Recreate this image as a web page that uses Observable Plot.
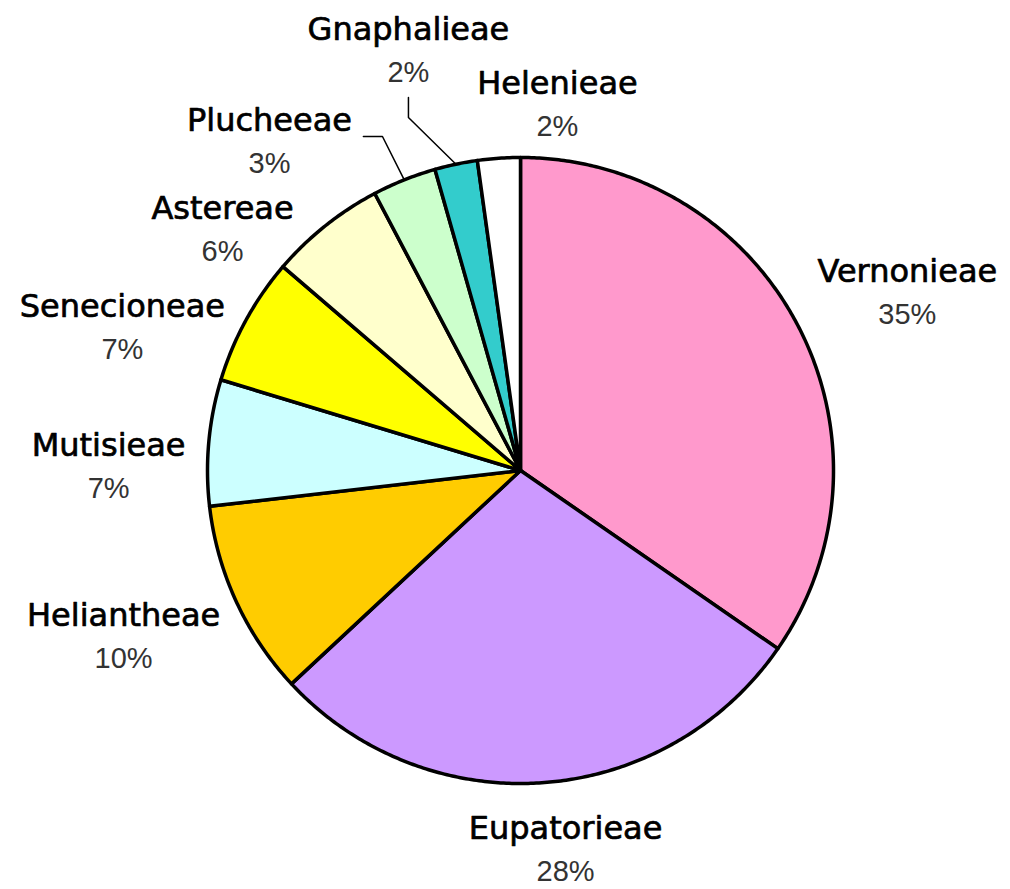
<!DOCTYPE html>
<html>
<head>
<meta charset="utf-8">
<script src="https://cdn.jsdelivr.net/npm/d3@7"></script>
<script src="https://cdn.jsdelivr.net/npm/@observablehq/plot@0.6"></script>
<style>
  html, body { margin: 0; padding: 0; background: #fff; }
  #chart svg { display: block; }
</style>
</head>
<body>
<div id="chart"></div>
<script>
// ---- data ----
const tribes = ["Vernonieae", "Eupatorieae", "Heliantheae", "Mutisieae", "Senecioneae",
                "Astereae", "Plucheeae", "Gnaphalieae", "Helenieae"];
const shares = [34.6, 28.4, 10.1, 6.5, 6.6, 6.0, 3.3, 2.2, 2.2];

// ---- styles ----
const sliceColors = ["#FF99CC", "#CC99FF", "#FFCC00", "#CCFFFF", "#FFFF00",
                     "#FFFFCC", "#CCFFCC", "#33CCCC", "#FFFFFF"];

// ---- layout (label anchors in pie-radius units, name baseline centre) ----
const labelLayout = {
  Vernonieae:  [1.236, 0.601],
  Eupatorieae: [0.144, -1.176],
  Heliantheae: [-1.268, -0.498],
  Mutisieae:   [-1.316, 0.045],
  Senecioneae: [-1.272, 0.492],
  Astereae:    [-0.952, 0.802],
  Plucheeae:   [-0.802, 1.086],
  Gnaphalieae: [-0.358, 1.374],
  Helenieae:   [0.118, 1.203]
};
// leader lines: start and elbow points (pie-radius units); end is the slice's mid-edge
const leaderLayout = {
  Plucheeae:   [[-0.502, 1.067], [-0.441, 1.067]],
  Gnaphalieae: [[-0.358, 1.192], [-0.358, 1.128]]
};

const W = 1010, H = 889, CX = 520, CY = 470, R = 313;

const total = d3.sum(shares);
let cum = 0;
const slices = tribes.map((name, i) => {
  const a0 = cum / total * 2 * Math.PI;
  cum += shares[i];
  const a1 = cum / total * 2 * Math.PI;
  return {name, color: sliceColors[i], a0, a1, mid: (a0 + a1) / 2,
          pct: Math.round(shares[i] / total * 100) + "%"};
});

const slicePts = [];
for (const s of slices) {
  slicePts.push({name: s.name, color: s.color, x: 0, y: 0});
  const n = Math.max(4, Math.ceil((s.a1 - s.a0) / (Math.PI / 360)));
  for (let k = 0; k <= n; k++) {
    const t = s.a0 + (s.a1 - s.a0) * k / n;
    slicePts.push({name: s.name, color: s.color, x: Math.sin(t), y: Math.cos(t)});
  }
  slicePts.push({name: s.name, color: s.color, x: 0, y: 0});
}

const labels = slices.map(s => ({name: s.name, pct: s.pct,
  x: labelLayout[s.name][0], y: labelLayout[s.name][1]}));

const leaderPts = [];
for (const s of slices) {
  const L = leaderLayout[s.name];
  if (!L) continue;
  leaderPts.push({name: s.name, x: L[0][0], y: L[0][1]});
  leaderPts.push({name: s.name, x: L[1][0], y: L[1][1]});
  leaderPts.push({name: s.name, x: Math.sin(s.mid), y: Math.cos(s.mid)});
}

const nameSize = 32, pctSize = 29, lineGap = 42;

const chart = Plot.plot({
  width: W, height: H,
  margin: 0,
  x: {domain: [-CX / R, (W - CX) / R], range: [0, W], axis: null},
  y: {domain: [(CY - H) / R, CY / R], range: [H, 0], axis: null},
  color: {type: "identity"},
  style: {background: "#fff"},
  marks: [
    Plot.line(slicePts, {x: "x", y: "y", z: "name", fill: "color", stroke: "#000",
      strokeWidth: 3.5, strokeLinejoin: "round", curve: "linear"}),
    Plot.line(leaderPts, {x: "x", y: "y", z: "name", stroke: "#000", strokeWidth: 1.5}),
    Plot.text(labels, {x: "x", y: "y", text: "name", fontSize: nameSize,
      fontFamily: "DejaVu Sans", fill: "#000", stroke: "#000", strokeWidth: 0.7,
      textAnchor: "middle", dy: -0.32 * nameSize}),
    Plot.text(labels, {x: "x", y: "y", text: "pct", fontSize: pctSize,
      fontFamily: "Liberation Sans", fill: "#333", textAnchor: "middle",
      dy: lineGap - 0.32 * pctSize})
  ]
});
document.getElementById("chart").appendChild(chart);
</script>
</body>
</html>
